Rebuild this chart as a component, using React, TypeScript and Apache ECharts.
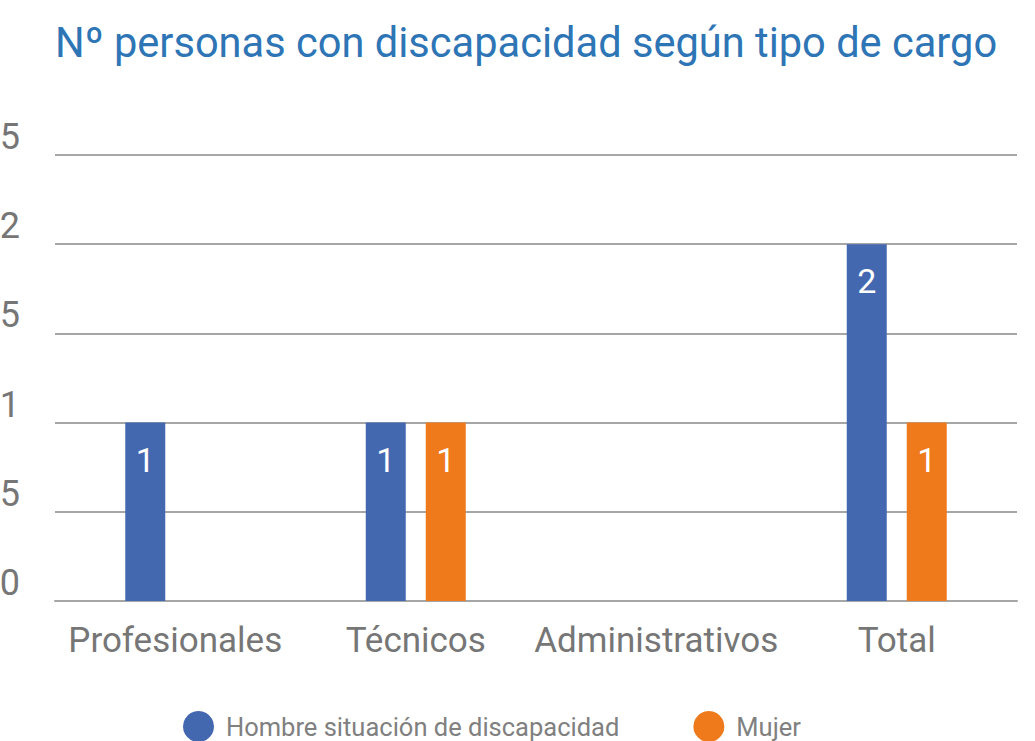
import React, { useEffect, useRef } from "react";
import * as echarts from "echarts";

const categories = ["Profesionales", "Técnicos", "Administrativos", "Total"];
const hombre = [1, 1, null, 2];
const mujer = [null, 1, null, 1];
const seriesNames = ["Hombre situación de discapacidad", "Mujer"];
const titleText = "Nº personas con discapacidad según tipo de cargo";

export default function App() {
  const ref = useRef<HTMLDivElement>(null);
  useEffect(() => {
    const chart = echarts.init(ref.current!, null, { renderer: "svg" });
    const labelStyle = {
      show: true,
      position: "insideTop",
      distance: 20,
      color: "#ffffff",
      fontSize: 34,
      fontFamily: "Roboto",
    };
    chart.setOption({
      animation: false,
      backgroundColor: "#ffffff",
      title: {
        text: titleText,
        left: 50,
        top: 16,
        textStyle: { color: "#2E75B6", fontSize: 41.6, fontWeight: "normal", fontFamily: "Roboto" },
      },
      legend: {
        top: 711,
        left: 183,
        padding: [0, 0, 0, 0],
        itemGap: 74,
        icon: "circle",
        itemWidth: 31,
        itemHeight: 31,
        textStyle: { color: "#808080", fontSize: 25.5, fontFamily: "Roboto", padding: [0, 0, 0, 7] },
        data: seriesNames,
      },
      grid: { left: 55, right: 18, top: 155, bottom: 140, containLabel: false, outerBoundsMode: "none" },
      xAxis: {
        type: "category",
        data: categories,
        axisLine: { lineStyle: { color: "#A6A6A6", width: 2 } },
        axisTick: { show: false },
        axisLabel: {
          color: "#767676",
          fontSize: 35,
          fontFamily: "Roboto",
          margin: 22,
          interval: 0,
          hideOverlap: false,
        },
      },
      yAxis: {
        type: "value",
        min: 0,
        max: 2.5,
        interval: 0.5,
        axisLine: { show: false },
        axisTick: { show: false },
        splitLine: { lineStyle: { color: "#A6A6A6", width: 2 } },
        axisLabel: {
          color: "#767676",
          fontSize: 36,
          fontFamily: "Roboto",
          margin: 35,
          verticalAlign: "bottom",
          formatter: (v: number) => String(v).replace(".", ","),
        },
      },
      series: [
        {
          name: seriesNames[0],
          type: "bar",
          data: hombre,
          barWidth: 40,
          barGap: "50%",
          itemStyle: { color: "#4468B0" },
          label: labelStyle,
        },
        {
          name: seriesNames[1],
          type: "bar",
          data: mujer,
          barWidth: 40,
          itemStyle: { color: "#EE7A1C" },
          label: labelStyle,
        },
      ],
    });
    return () => chart.dispose();
  }, []);
  return (
    <div
      ref={ref}
      style={{ position: "fixed", left: 0, top: 0, width: 1035, height: 741 }}
    />
  );
}
